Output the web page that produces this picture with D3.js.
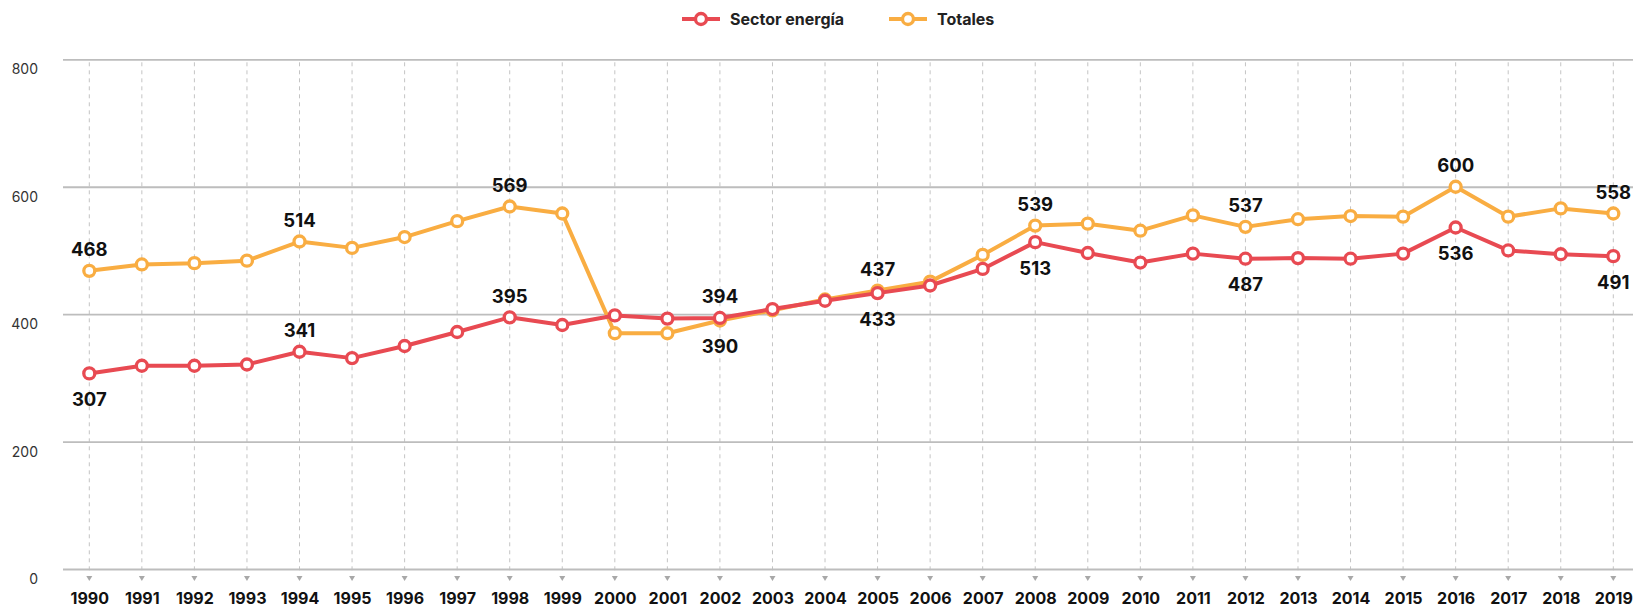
<!DOCTYPE html>
<html>
<head>
<meta charset="utf-8">
<script src="https://cdn.jsdelivr.net/npm/d3@7"></script>
<style>
  body { margin: 0; background: #fff; }
  svg text { font-family: Inter, "Noto Sans", sans-serif; }
  .yAxis text { font-size: 14px; fill: #333; }
  .xAxis text { font-size: 16px; font-weight: 700; fill: #111; }
  .dataLabel { font-size: 18.5px; font-weight: 700; fill: #111; }
  .legendText { font-size: 16px; font-weight: 700; fill: #222; }
</style>
</head>
<body>
<div id="chart"></div>
<script>
// years on the x axis
var years = [1990, 1991, 1992, 1993, 1994, 1995, 1996, 1997, 1998, 1999,
  2000, 2001, 2002, 2003, 2004, 2005, 2006, 2007, 2008, 2009,
  2010, 2011, 2012, 2013, 2014, 2015, 2016, 2017, 2018, 2019];

// series values
var energia = [307, 319, 319, 321, 341, 331, 350, 372, 395, 383,
  398, 393, 394, 408, 421, 433, 445, 471, 513, 496,
  481, 495, 487, 488, 487, 495, 536, 500, 494, 491];
var totales = [468, 478, 480, 484, 514, 504, 521, 546, 569, 558,
  370, 370, 390, 406, 423, 437, 451, 493, 539, 542,
  531, 555, 537, 549, 554, 553, 600, 553, 566, 558];

var yTicks = [0, 200, 400, 600, 800];

// which years carry a value label, and where (1 = above, -1 = below)
var labelYears = [1990, 1994, 1998, 2002, 2005, 2008, 2012, 2016, 2019];
var energiaSide = [-1, 1, 1, 1, -1, -1, -1, -1, -1];
var totalesSide = [1, 1, 1, -1, 1, 1, 1, 1, 1];

var width = 1633;
var height = 610;

var svg = d3.select("#chart")
  .append("svg")
  .attr("width", width)
  .attr("height", height);

var xScale = d3.scalePoint()
  .domain(years)
  .range([89.3, 1613.3]);

var yScale = d3.scaleLinear()
  .domain([0, 800])
  .range([569, 59.3]);

// dashed vertical guides
svg.append("g")
  .selectAll("line")
  .data(years)
  .enter()
  .append("line")
  .attr("x1", function(d) { return xScale(d); })
  .attr("x2", function(d) { return xScale(d); })
  .attr("y1", yScale(800) + 3)
  .attr("y2", 574)
  .attr("stroke", "#c4c4c4")
  .attr("stroke-width", 1)
  .attr("stroke-dasharray", "4,4");

// y axis with horizontal grid
var yAxis = d3.axisLeft(yScale)
  .tickValues(yTicks)
  .tickSize(-(width - 63))
  .tickPadding(25);

svg.append("g")
  .attr("class", "yAxis")
  .attr("transform", "translate(63,0)")
  .call(yAxis)
  .call(function(g) {
    g.select(".domain").remove();
    g.selectAll(".tick line").attr("stroke", "#bdbdbd").attr("stroke-width", 1.8);
    g.selectAll(".tick text").attr("dy", "0.32em").attr("y", 10).attr("x", -25);
  });

// small down triangles under each year
svg.append("g")
  .selectAll("path")
  .data(years)
  .enter()
  .append("path")
  .attr("d", function(d) {
    var x = xScale(d);
    return "M" + (x - 3) + ",576L" + (x + 3) + ",576L" + x + ",581Z";
  })
  .attr("fill", "#a8a8a8");

// x axis labels
var xAxis = d3.axisBottom(xScale).tickSize(0).tickPadding(0);
svg.append("g")
  .attr("class", "xAxis")
  .attr("transform", "translate(0,593)")
  .call(xAxis)
  .call(function(g) {
    g.select(".domain").remove();
  });

var line = d3.line()
  .x(function(d, i) { return xScale(years[i]); })
  .y(function(d) { return yScale(d); });

function drawSeries(values, color) {
  svg.append("path")
    .datum(values)
    .attr("d", line)
    .attr("fill", "none")
    .attr("stroke", color)
    .attr("stroke-width", 4)
    .attr("stroke-linejoin", "round");

  svg.append("g")
    .selectAll("circle")
    .data(values)
    .enter()
    .append("circle")
    .attr("cx", function(d, i) { return xScale(years[i]); })
    .attr("cy", function(d) { return yScale(d); })
    .attr("r", 5.5)
    .attr("fill", "#fff")
    .attr("stroke", color)
    .attr("stroke-width", 3.3);
}

function drawLabels(values, sides) {
  svg.append("g")
    .selectAll("text")
    .data(labelYears)
    .enter()
    .append("text")
    .attr("class", "dataLabel")
    .attr("x", function(d) { return xScale(d); })
    .attr("y", function(d, i) {
      var v = values[years.indexOf(d)];
      return yScale(v) + (sides[i] > 0 ? -21 : 26);
    })
    .attr("dy", "0.35em")
    .attr("text-anchor", "middle")
    .text(function(d) { return values[years.indexOf(d)]; });
}

var redColor = "#e84a52";
var orangeColor = "#f9ad42";

drawSeries(totales, orangeColor);
drawSeries(energia, redColor);
drawLabels(totales, totalesSide);
drawLabels(energia, energiaSide);

// legend
var legendItems = [
  { name: "Sector energía", color: redColor, x: 682 },
  { name: "Totales", color: orangeColor, x: 889 }
];

var legend = svg.append("g").attr("class", "legend");
legendItems.forEach(function(item) {
  var g = legend.append("g").attr("transform", "translate(" + item.x + ",19)");
  g.append("line")
    .attr("x1", 0).attr("x2", 38)
    .attr("stroke", item.color)
    .attr("stroke-width", 4);
  g.append("circle")
    .attr("cx", 19).attr("r", 5.5)
    .attr("fill", "#fff")
    .attr("stroke", item.color)
    .attr("stroke-width", 3.3);
  g.append("text")
    .attr("class", "legendText")
    .attr("x", 48)
    .attr("dy", "0.35em")
    .text(item.name);
});
</script>
</body>
</html>
